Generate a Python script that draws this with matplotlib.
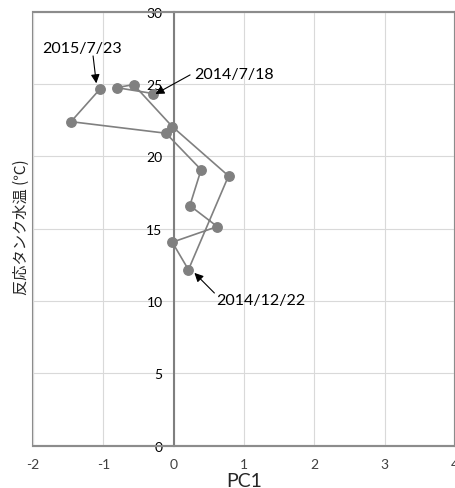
import matplotlib
matplotlib.use("Agg")
import matplotlib.pyplot as plt

# Data (time order, 2014/7/18 -> 2015/7/23)
pc1 = [-0.29, -0.81, -0.57, -0.02, 0.78, 0.21, -0.02, 0.62, 0.23, 0.39, -0.11, -1.46, -1.05]
temp = [24.33, 24.74, 24.95, 22.05, 18.64, 12.16, 14.06, 15.14, 16.59, 19.07, 21.59, 22.39, 24.63]

x_ticks = [-2, -1, 0, 1, 2, 3, 4]
y_ticks = [0, 5, 10, 15, 20, 25, 30]

ann_labels = ["2015/7/23", "2014/7/18", "2014/12/22"]
ann_text_xy = [(-1.31, 27.48), (0.86, 25.69), (1.243, 10.07)]
ann_tail_xy = [(-1.146, 26.93), (0.233, 25.62), (0.579, 10.55)]
ann_tip_xy = [(-1.10, 25.04), (-0.26, 24.30), (0.295, 11.94)]

plt.rcParams['font.family'] = ['Lato', 'DejaVu Sans']

fig = plt.figure(figsize=(4.56, 4.89), dpi=100)
ax = fig.add_axes([0.0724, 0.0865, 0.9254, 0.8879])

ax.set_xlim(-2, 4)
ax.set_ylim(0, 30)
ax.set_xticks(x_ticks)
ax.set_yticks(y_ticks)
ax.set_xticklabels([str(v) for v in x_ticks], fontsize=10, color='#404040')
ax.set_yticklabels([str(v) for v in y_ticks], fontsize=10, color='#404040')
ax.tick_params(axis='both', length=0)
ax.tick_params(axis='x', pad=9)
ax.tick_params(axis='y', pad=8)

ax.grid(True, color='#d9d9d9', linewidth=0.8)
ax.set_axisbelow(True)

for s in ['top', 'right', 'bottom']:
    ax.spines[s].set_color('#8c8c8c')
    ax.spines[s].set_linewidth(1.5)
ax.spines['left'].set_position(('data', 0))
ax.spines['left'].set_color('#7f7f7f')
ax.spines['left'].set_linewidth(1.5)
ax.spines['left'].set_zorder(1.5)
ax.patch.set_edgecolor('#8c8c8c')
ax.patch.set_linewidth(1.5)

ax.plot(pc1, temp, color='#808080', linewidth=1.2, marker='o', markersize=6.8,
        markerfacecolor='#808080', markeredgecolor='#808080', zorder=3)

for lab, txy, tail, tip in zip(ann_labels, ann_text_xy, ann_tail_xy, ann_tip_xy):
    ax.text(txy[0], txy[1], lab, fontsize=11.5, ha='center', va='center', color='black', zorder=5)
    ax.annotate('', xy=tip, xytext=tail,
                arrowprops=dict(arrowstyle='-|>', color='black', lw=0.8,
                                mutation_scale=13, shrinkA=0, shrinkB=0), zorder=5)

ax.set_xlabel('PC1', fontsize=14, color='#262626', labelpad=1)
fig.text(21 / 456, 1 - 227 / 489, '反応タンク水温 (℃)', fontsize=11, color='#262626',
         rotation=90, ha='center', va='center',
         family=['Noto Sans CJK JP', 'DejaVu Sans'])

fig.savefig('out.png', dpi=100)
